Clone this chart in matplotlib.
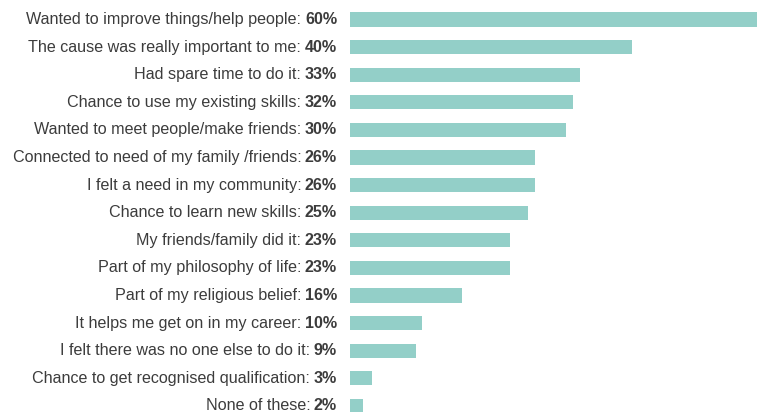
import matplotlib
matplotlib.use('Agg')
import matplotlib.pyplot as plt
from matplotlib.transforms import offset_copy

reasons = [
    'Wanted to improve things/help people',
    'The cause was really important to me',
    'Had spare time to do it',
    'Chance to use my existing skills',
    'Wanted to meet people/make friends',
    'Connected to need of my family /friends',
    'I felt a need in my community',
    'Chance to learn new skills',
    'My friends/family did it',
    'Part of my philosophy of life',
    'Part of my religious belief',
    'It helps me get on in my career',
    'I felt there was no one else to do it',
    'Chance to get recognised qualification',
    'None of these',
]
# printed percentages
pct = [60, 40, 33, 32, 30, 26, 26, 25, 23, 23, 16, 10, 9, 3, 2]
# bar lengths (unrounded)
bar_len = [60, 39.7, 32.4, 31.4, 30.4, 26.1, 26.1, 25.0, 22.6, 22.6, 15.8, 10.2, 9.3, 3.1, 1.9]

bar_color = '#93cfc8'
txt_color = '#3c3c3c'
plt.rcParams['font.family'] = ['Liberation Sans', 'DejaVu Sans']

W, H = 757, 412
fig = plt.figure(figsize=(W / 100, H / 100), dpi=100)
ax = fig.add_axes([350 / W, 0, 1 - 350 / W, 1])
ax.axis('off')

rows = list(range(len(reasons)))
ax.barh(rows, bar_len, height=0.51, color=bar_color)
ax.set_xlim(0, (W - 350) / 7.1)
ax.set_ylim((H - 19.5) / 27.6, -19.5 / 27.6)

fig.canvas.draw()
r = fig.canvas.get_renderer()
for i, (lab, p) in enumerate(zip(reasons, pct)):
    tr = offset_copy(ax.transData, fig=fig, x=-13, y=0, units='dots')
    t = ax.text(0, i, '%d%%' % p, transform=tr, ha='right', va='center',
                fontsize=11.6, fontweight='bold', color=txt_color)
    w = t.get_window_extent(renderer=r).width
    tr2 = offset_copy(ax.transData, fig=fig, x=-13 - w - 3.5, y=0, units='dots')
    ax.text(0, i, lab + ':', transform=tr2, ha='right', va='center',
            fontsize=11.6, color=txt_color)

fig.savefig('out.png', dpi=100)
